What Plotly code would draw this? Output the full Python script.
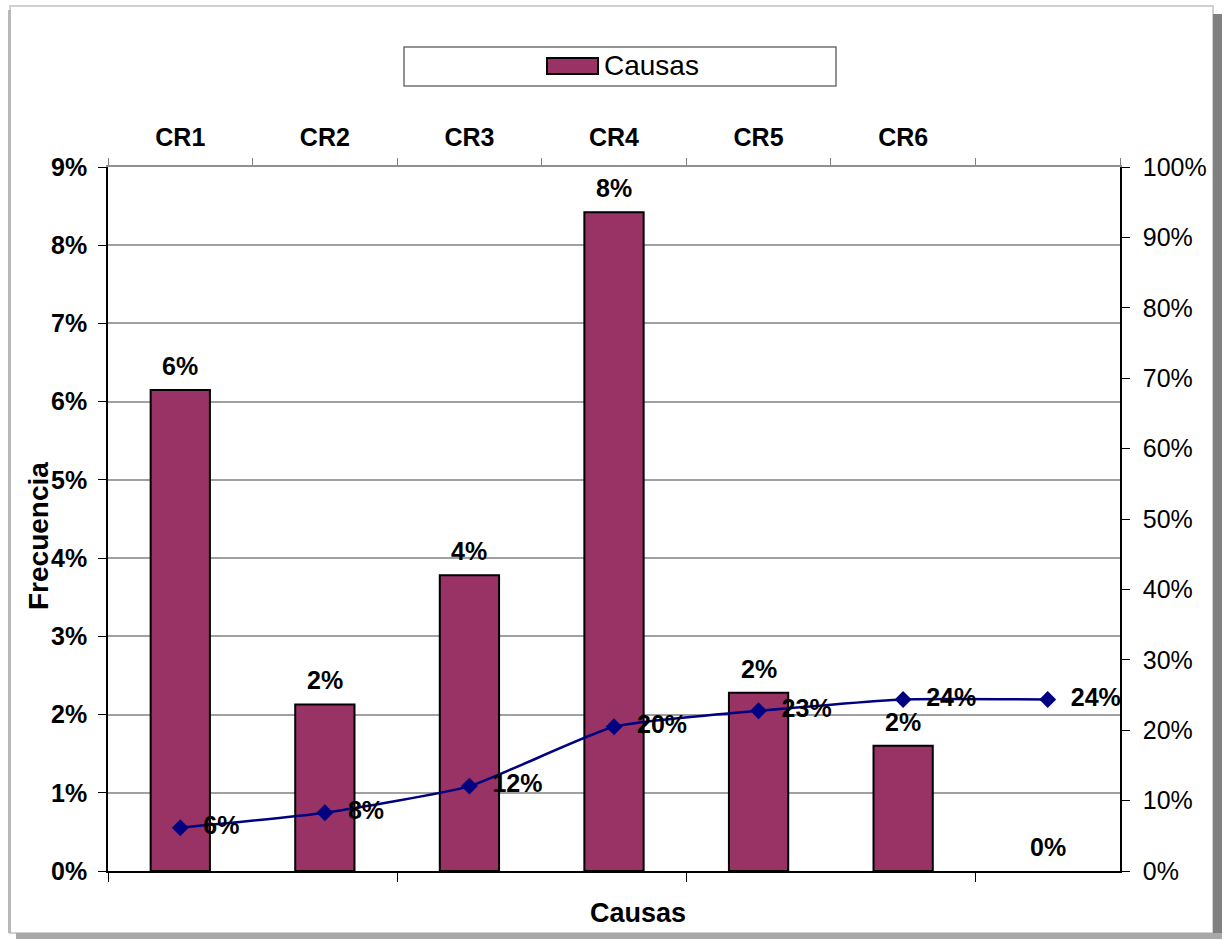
import plotly.graph_objects as go

categories = ["CR1", "CR2", "CR3", "CR4", "CR5", "CR6", " "]
frequency = [0.0615, 0.0213, 0.0378, 0.0842, 0.0228, 0.0160, 0.0]
cumulative = [0.0615, 0.0828, 0.1206, 0.2048, 0.2276, 0.2436, 0.2436]
left_ticks = [0, 0.01, 0.02, 0.03, 0.04, 0.05, 0.06, 0.07, 0.08, 0.09]
right_ticks = [0, 0.1, 0.2, 0.3, 0.4, 0.5, 0.6, 0.7, 0.8, 0.9, 1.0]

FONT = "Liberation Sans, Arial, sans-serif"
BAR = "#993366"
LINE = "#000080"

W, H = 1228, 940
L, R, T, B = 108, 1120, 167, 871


def px(x):
    return (x - L) / (R - L)


def py(y):
    return (B - y) / (B - T)


fig = go.Figure()

fig.add_trace(go.Bar(
    x=list(range(len(categories))), y=frequency, name="Causas",
    width=0.41,
    marker=dict(color=BAR, line=dict(color="black",
                                     width=[2 if v > 0 else 0 for v in frequency])),
    showlegend=False, xaxis="x", yaxis="y",
))

fig.add_trace(go.Scatter(
    x=categories, y=cumulative, mode="lines+markers+text",
    line=dict(color=LINE, width=2.5, shape="spline", smoothing=0.5),
    marker=dict(symbol="diamond", size=13, color=LINE),
    texttemplate="\u00a0\u00a0<b>%{y:.0%}</b>", textposition="middle right",
    textfont=dict(family=FONT, size=25, color="black"),
    cliponaxis=False, showlegend=False, xaxis="x2", yaxis="y2",
))

fig.update_layout(
    width=W, height=H,
    margin=dict(l=L, r=W - R, t=T, b=H - B),
    paper_bgcolor="white", plot_bgcolor="white",
    font=dict(family=FONT, color="black"),
    xaxis=dict(
        range=[-0.5, 6.5], tickmode="array", tickvals=[-0.5, 1.5, 3.5, 5.5],
        showticklabels=False, ticks="outside", ticklen=9, tickcolor="black",
        showline=True, linecolor="black", linewidth=1.5, showgrid=False,
        zeroline=False,
    ),
    xaxis2=dict(
        type="category", categoryorder="array", categoryarray=categories,
        overlaying="x", side="top", anchor="y", range=[-0.5, 6.5],
        tickson="boundaries", ticks="outside", ticklen=7, tickcolor="#808080",
        tickfont=dict(family=FONT, size=25, color="black", weight="bold"),
        ticklabelstandoff=9,
        showline=True, linecolor="#909090", linewidth=2, showgrid=False,
    ),
    yaxis=dict(
        range=[0, 0.09], tickmode="array", tickvals=left_ticks,
        tickformat=".0%", ticks="outside", ticklen=8, tickcolor="black",
        tickfont=dict(family=FONT, size=25, color="black", weight="bold"),
        ticklabelstandoff=6,
        showline=True, linecolor="black", linewidth=1.5,
        showgrid=True, gridcolor="#a0a0a0", gridwidth=1.5, zeroline=False,
    ),
    yaxis2=dict(
        range=[0, 1.0], tickmode="array", tickvals=right_ticks,
        tickformat=".0%", ticks="outside", ticklen=8, tickcolor="black",
        tickfont=dict(family=FONT, size=25, color="black"),
        ticklabelstandoff=8,
        overlaying="y", side="right", anchor="x",
        showline=True, linecolor="black", linewidth=1.5,
        showgrid=False, zeroline=False,
    ),
)

shapes = [
    # outer frame
    dict(type="rect", xref="paper", yref="paper", layer="below",
         x0=px(10), x1=px(1213), y0=py(933), y1=py(6),
         line=dict(color="#d0d0d0", width=2), fillcolor="rgba(0,0,0,0)"),
    # shadows
    dict(type="rect", xref="paper", yref="paper", layer="below",
         x0=px(1213), x1=px(1222), y0=py(939), y1=py(14),
         line=dict(width=0), fillcolor="#808080"),
    dict(type="rect", xref="paper", yref="paper", layer="below",
         x0=px(16), x1=px(1222), y0=py(939), y1=py(933),
         line=dict(width=0), fillcolor="#a8a8a8"),
    dict(type="rect", xref="paper", yref="paper", layer="below",
         x0=px(8), x1=px(11), y0=py(933), y1=py(10),
         line=dict(width=0), fillcolor="#b8b8b8"),
    # legend box
    dict(type="rect", xref="paper", yref="paper",
         x0=px(404), x1=px(836), y0=py(86), y1=py(47),
         line=dict(color="#707070", width=1.5), fillcolor="white"),
    dict(type="rect", xref="paper", yref="paper",
         x0=px(547), x1=px(598), y0=py(74), y1=py(58),
         line=dict(color="black", width=2), fillcolor=BAR),
]

annotations = [
    dict(text="Causas", xref="paper", yref="paper", x=px(602), y=py(66),
         xanchor="left", yanchor="middle", showarrow=False,
         font=dict(family=FONT, size=28, color="black")),
    dict(text="<b>Causas</b>", xref="paper", yref="paper", x=px(638), y=py(913),
         xanchor="center", yanchor="middle", showarrow=False,
         font=dict(family=FONT, size=27, color="black")),
    dict(text="<b>Frecuencia</b>", xref="paper", yref="paper", x=px(38), y=py(536),
         xanchor="center", yanchor="middle", showarrow=False, textangle=-90,
         font=dict(family=FONT, size=28, color="black")),
]

# bar value labels, placed above each bar through the data axes
for i, v in enumerate(frequency):
    annotations.append(dict(
        text=f"<b>{v:.0%}</b>", xref="x", yref="y", x=i, y=v,
        xanchor="center", yanchor="bottom", yshift=8, showarrow=False,
        font=dict(family=FONT, size=25, color="black"),
    ))

fig.update_layout(shapes=shapes, annotations=annotations)

fig.write_html("out.html")
